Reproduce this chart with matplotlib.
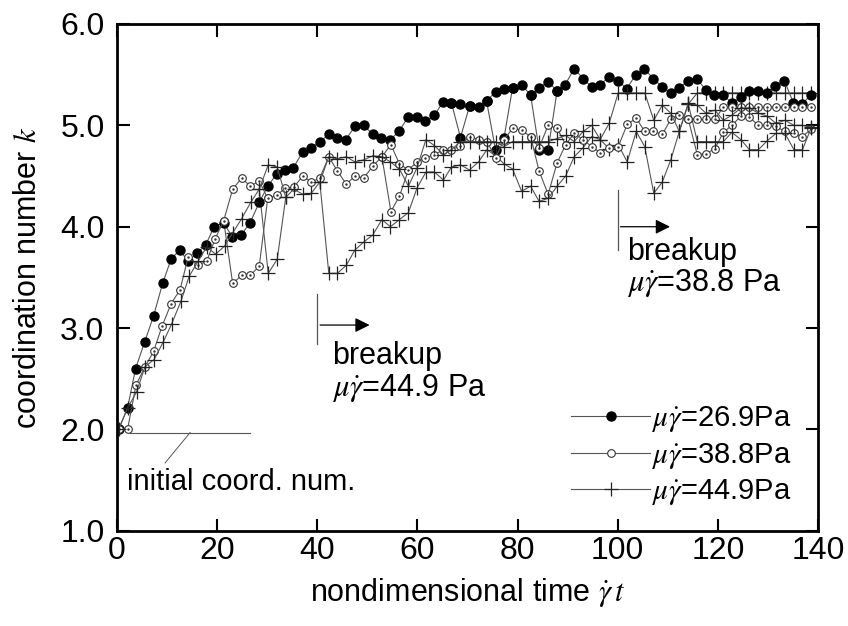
import matplotlib
matplotlib.use('Agg')
import matplotlib.pyplot as plt

plt.rcParams['font.family'] = ['Liberation Sans', 'DejaVu Sans']
plt.rcParams['mathtext.fontset'] = 'stix'

# mu*gamma_dot = 26.9 Pa (filled circles)
t_a = [0.3, 2.1, 3.7, 5.5, 7.3, 9.1, 10.8, 12.5, 14.2, 16.0, 17.7, 19.4, 21.3, 23.0, 24.8,
       26.6, 28.4, 30.1, 31.9, 33.6, 35.2, 37.1, 38.7, 40.5, 42.3, 44.0, 45.7, 47.5, 49.3,
       51.1, 52.8, 54.6, 56.3, 58.1, 59.9, 61.6, 63.4, 65.1, 66.8, 68.6, 70.4, 72.2, 73.8,
       75.6, 77.3, 79.0, 80.8, 82.6, 84.3, 86.1, 87.9, 89.5, 91.3, 93.1, 94.8, 96.5, 98.3,
       100.1, 101.8, 103.6, 105.3, 107.1, 108.9, 110.6, 112.3, 114.1, 115.8, 117.6, 119.3,
       121.1, 122.8, 124.6, 126.3, 128.0, 129.8, 131.4, 133.3, 135.1, 136.8, 138.6]
k_a = [2.00, 2.21, 2.60, 2.86, 3.12, 3.44, 3.68, 3.77, 3.66, 3.74, 3.82, 4.00, 4.04, 3.90, 3.92,
       4.04, 4.24, 4.40, 4.52, 4.56, 4.58, 4.74, 4.78, 4.84, 4.91, 4.88, 4.86, 4.99, 5.00,
       4.91, 4.88, 4.86, 4.94, 5.08, 5.08, 5.04, 5.10, 5.23, 5.22, 5.21, 5.19, 5.18, 5.24,
       5.33, 5.36, 5.37, 5.40, 5.30, 5.37, 5.43, 5.34, 5.40, 5.56, 5.46, 5.38, 5.40, 5.48,
       5.44, 5.36, 5.50, 5.56, 5.46, 5.38, 5.32, 5.37, 5.44, 5.46, 5.35, 5.30,
       5.30, 5.22, 5.28, 5.34, 5.34, 5.32, 5.39, 5.44, 5.22, 5.21, 5.30]
# excursions of the 26.9 Pa run
t_a_dips = [[66.8, 68.6, 70.4], [73.8, 75.6, 77.3, 79.0], [82.6, 84.3, 86.1, 87.9]]
k_a_dips = [[5.22, 4.88, 5.19], [5.24, 4.76, 4.88, 5.37], [5.30, 4.76, 4.76, 5.34]]

# mu*gamma_dot = 38.8 Pa (open circles)
t_b = [0.3, 2.1, 3.8, 5.6, 7.3, 9.0, 10.8, 12.6, 14.2, 16.1, 17.9, 19.6, 21.3, 23.1, 24.9,
       26.6, 28.4, 30.1, 31.9, 33.6, 35.3, 37.1, 38.8, 40.5, 42.3, 44.0, 45.8, 47.5, 49.3,
       51.1, 52.9, 54.7, 56.4, 58.2, 59.9, 61.6, 63.4, 65.1, 66.8, 68.6, 70.4, 72.2, 73.9,
       75.6, 77.3, 79.0, 80.8, 82.6, 84.3, 86.1, 87.9, 89.6, 91.3, 93.1, 94.8, 96.5, 98.3,
       100.1, 101.9, 103.7, 105.4, 107.1, 108.9, 110.6, 112.3, 114.1, 115.9, 117.6, 119.4,
       121.1, 122.8, 124.6, 126.3, 128.1, 129.9, 131.6, 133.4, 135.2, 136.9, 138.6]
k_b = [2.00, 2.00, 2.44, 2.62, 2.77, 3.02, 3.24, 3.38, 3.70, 3.62, 3.66, 3.88, 4.06, 4.37, 4.48,
       4.40, 4.45, 4.28, 4.31, 4.38, 4.39, 4.50, 4.44, 4.48, 4.69, 4.55, 4.42, 4.50, 4.48,
       4.60, 4.69, 4.81, 4.62, 4.56, 4.64, 4.68, 4.71, 4.76, 4.76, 4.80, 4.89, 4.86, 4.84,
       4.68, 4.86, 4.97, 4.95, 4.89, 4.78, 5.00, 4.97, 4.81, 4.92, 4.86, 4.79, 4.73, 4.78,
       4.79, 5.01, 5.07, 4.94, 4.94, 4.91, 5.06, 5.10, 5.06, 5.06, 5.06, 5.06,
       5.18, 5.18, 5.18, 5.18, 5.18, 5.18, 5.18, 5.18, 5.18, 5.18, 5.18]
t_b_dips = [[21.3, 23.1, 24.9, 26.6, 28.4, 30.1], [52.9, 54.7, 56.4, 58.2],
            [82.6, 84.3, 86.1, 87.9, 89.6],
            [114.1, 115.9, 117.6, 119.4, 121.1, 122.8, 124.6, 126.3, 128.1, 129.9, 131.6,
             133.4, 135.2, 136.9, 138.6]]
k_b_dips = [[4.06, 3.44, 3.52, 3.52, 3.61, 4.28], [4.69, 4.15, 4.30, 4.56],
            [4.89, 4.55, 4.32, 4.63, 4.81],
            [5.06, 4.71, 4.72, 4.77, 4.93, 5.00, 5.09, 5.08, 5.00, 5.00, 4.99,
             4.94, 4.92, 4.89, 4.96]]

# mu*gamma_dot = 44.9 Pa (crosses)
t_c = [0.3, 2.1, 3.9, 5.6, 7.4, 9.2, 10.9, 12.8, 14.4, 16.2, 17.9, 19.7, 21.5, 23.1, 24.9,
       26.7, 28.4, 30.2, 32.0, 33.7, 35.3, 37.1, 38.8, 40.5, 42.3, 44.0, 45.8, 47.5, 49.3,
       51.1, 52.9, 54.6, 56.4, 58.2, 59.9, 61.7, 63.4, 65.2, 66.8, 68.6, 70.4, 72.2, 73.9,
       75.6, 77.3, 79.0, 80.8, 82.6, 84.3, 86.1, 87.9, 89.6, 91.3, 93.1, 94.8, 96.5, 98.3,
       100.1, 101.9, 103.7, 105.4, 107.2, 108.9, 110.6, 112.3, 114.1, 115.9, 117.6, 119.4,
       121.1, 122.8, 124.6, 126.3, 128.1, 129.9, 131.6, 133.4, 135.2, 136.9, 138.6]
k_c = [2.00, 2.21, 2.37, 2.62, 2.69, 2.86, 3.04, 3.27, 3.51, 3.66, 3.80, 3.73, 3.81, 3.94, 4.08,
       4.24, 4.37, 4.61, 4.59, 4.29, 4.37, 4.32, 4.33, 4.44, 4.69, 4.67, 4.69, 4.64, 4.66,
       4.70, 4.69, 4.64, 4.57, 4.40, 4.58, 4.86, 4.80, 4.71, 4.76, 4.84, 4.84, 4.84, 4.84,
       4.84, 4.79, 4.84, 4.84, 4.84, 4.84, 4.84, 4.87, 4.90, 4.84, 4.94, 5.00, 4.86, 5.02,
       5.32, 5.32, 5.32, 5.32, 5.05, 5.20, 5.12, 4.94, 5.22, 5.20, 5.12, 5.15,
       5.05, 5.10, 5.17, 5.17, 5.12, 5.09, 5.02, 5.05, 5.00, 5.00, 4.98]
t_c_dips = [[28.4, 30.2, 32.0, 33.7],
            [40.5, 42.3, 44.0, 45.8, 47.5, 49.3, 51.1, 52.9, 54.6, 56.4, 58.2, 59.9, 61.7,
             63.4, 65.2, 66.8, 68.6, 70.4, 72.2, 73.9, 75.6, 77.3, 79.0, 80.8, 82.6, 84.3,
             86.1, 87.9, 89.6, 91.3, 93.1, 94.8, 96.5, 98.3, 100.1, 101.9, 103.7, 105.4,
             107.2, 108.9, 110.6, 112.3, 114.1, 115.9, 117.6, 119.4, 121.1, 122.8, 124.6,
             126.3, 128.1, 129.9, 131.6, 133.4, 135.2, 136.9, 138.6],
            [114.1, 115.9, 117.6, 119.4, 121.1, 122.8, 124.6, 126.3, 128.1, 129.9, 131.6,
             133.4, 135.2, 136.9, 138.6]]
k_c_dips = [[4.37, 3.54, 3.68, 4.29],
            [4.44, 3.54, 3.54, 3.62, 3.77, 3.85, 3.92, 4.07, 4.00, 4.07, 4.14, 4.38, 4.54,
             4.54, 4.46, 4.59, 4.61, 4.56, 4.64, 4.76, 4.70, 4.62, 4.57, 4.35, 4.40, 4.25,
             4.28, 4.40, 4.50, 4.69, 4.78, 4.89, 4.86, 4.77, 4.81, 4.64, 4.94, 4.79,
             4.33, 4.44, 4.66, 4.94, 5.21, 5.32, 5.32, 5.32, 5.32, 5.32, 5.32,
             5.32, 5.32, 5.32, 5.32, 5.32, 5.32, 5.32, 5.32],
            [5.21, 4.84, 4.84, 4.84, 4.84, 4.93, 4.86, 4.76, 4.76, 4.85, 4.92,
             4.92, 4.76, 4.76, 4.97]]

labels = [r'$\mu\dot{\gamma}$=26.9Pa', r'$\mu\dot{\gamma}$=38.8Pa', r'$\mu\dot{\gamma}$=44.9Pa']

fig = plt.figure(figsize=(8.48, 6.26), dpi=100)
ax = fig.add_axes([0.138, 0.152, 0.8266, 0.8097])

lc = '#555555'
sa = dict(color=lc, lw=0.8, marker='o', ms=6.5, mfc='black', mec='black')
sb = dict(color=lc, lw=0.8, marker='o', ms=5.5, mfc='white', mec='#333333', mew=0.8)
sc = dict(color=lc, lw=0.8, marker='+', ms=10, mec='#222222', mew=0.9)

for tx, ky in zip(t_a_dips, k_a_dips):
    ax.plot(tx, ky, **sa)
for tx, ky in zip(t_b_dips, k_b_dips):
    ax.plot(tx, ky, **sb)
    ax.plot(tx, ky, ls='none', marker='.', ms=1.5, color='#333333')
for tx, ky in zip(t_c_dips, k_c_dips):
    ax.plot(tx, ky, **sc)

ax.plot(t_a, k_a, label=labels[0], **sa)
ax.plot(t_b, k_b, label=labels[1], **sb)
ax.plot(t_b, k_b, ls='none', marker='.', ms=1.5, color='#333333')
ax.plot(t_c, k_c, label=labels[2], **sc)

ax.set_xlim(0, 140)
ax.set_ylim(1.0, 6.0)
ax.set_xticks(range(0, 141, 20))
ax.set_yticks([1, 2, 3, 4, 5, 6])
ax.set_yticklabels(['1.0', '2.0', '3.0', '4.0', '5.0', '6.0'])
ax.tick_params(direction='in', length=9, width=1.5, top=True, right=True, labelsize=23)
ax.tick_params(axis='y', pad=9)
ax.tick_params(axis='x', pad=4)
for s in ax.spines.values():
    s.set_linewidth(2)

ax.set_xlabel(r'nondimensional time $\dot{\gamma}\,t$', fontsize=22, labelpad=7)
ax.set_ylabel(r'coordination number $k$', fontsize=22, labelpad=12)

# annotations
ax.plot([40, 40], [2.84, 3.34], color='#555555', lw=0.9)
ax.annotate('', xy=(51, 3.03), xytext=(40, 3.03),
            arrowprops=dict(arrowstyle='-|>', color='black', lw=0.9, mutation_scale=22))
ax.text(43, 2.72, 'breakup', fontsize=22, va='center')
ax.text(43, 2.41, r'$\mu\dot{\gamma}$=44.9 Pa', fontsize=22, va='center')

ax.plot([100, 100], [3.77, 4.36], color='#555555', lw=0.9)
ax.annotate('', xy=(111, 4.0), xytext=(100, 4.0),
            arrowprops=dict(arrowstyle='-|>', color='black', lw=0.9, mutation_scale=22))
ax.text(101.8, 3.75, 'breakup', fontsize=22, va='center')
ax.text(101.8, 3.44, r'$\mu\dot{\gamma}$=38.8 Pa', fontsize=22, va='center')

ax.plot([2.6, 26.6], [1.97, 1.97], color='#555555', lw=0.8)
ax.plot([14.6, 9.6], [1.97, 1.67], color='#555555', lw=0.7)
ax.text(2.0, 1.48, 'initial coord. num.', fontsize=21, va='center')

ax.legend(loc='lower right', bbox_to_anchor=(0.97, 0.035), frameon=False, fontsize=21,
          handlelength=2.7, handletextpad=0.05, labelspacing=0.22, borderaxespad=0.0,
          borderpad=0.2)

fig.savefig('out.png', dpi=100)
